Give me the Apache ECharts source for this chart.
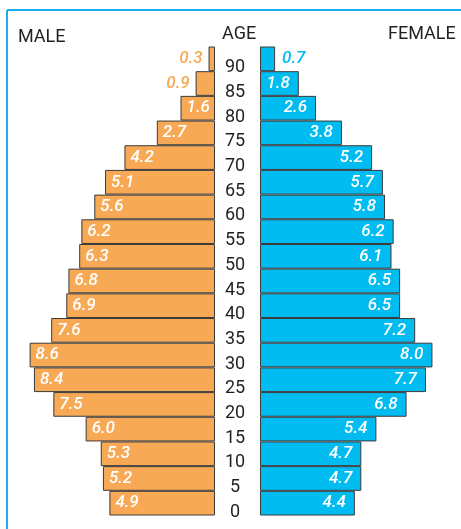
<!DOCTYPE html>
<html><head><meta charset="utf-8">
<script src="https://cdn.jsdelivr.net/npm/echarts@6/dist/echarts.min.js"></script>
<style>html,body{margin:0;padding:0;background:#fff}#c{width:461px;height:529px}</style>
</head><body><div id="c"></div>
<script>
const ages = ['0','5','10','15','20','25','30','35','40','45','50','55','60','65','70','75','80','85','90'];
const male = [4.9,5.2,5.3,6.0,7.5,8.4,8.6,7.6,6.9,6.8,6.3,6.2,5.6,5.1,4.2,2.7,1.6,0.9,0.3];
const female = [4.4,4.7,4.7,5.4,6.8,7.7,8.0,7.2,6.5,6.5,6.1,6.2,5.8,5.7,5.2,3.8,2.6,1.8,0.7];

const ORANGE = '#F7A956', BLUE = '#00BCF1', BORDER = '#3a3a3a';
const labelFont = {fontFamily:'Roboto', fontSize:17, fontStyle:'italic', fontWeight:500};
const fmt = p => p.value.toFixed(1);

const maleData = male.map(v => v < 1
  ? {value:v, label:{position:'left', distance:6, color:ORANGE}}
  : {value:v});
const femaleData = female.map(v => v < 1
  ? {value:v, label:{position:'right', distance:7, color:BLUE}}
  : {value:v});

const chart = echarts.init(document.getElementById('c'));
chart.setOption({
  animation:false,
  grid:[
    {left:21, width:194, top:46.5, height:469},
    {left:260, width:194, top:46.5, height:469}
  ],
  xAxis:[
    {gridIndex:0, type:'value', min:0, max:9, inverse:true, show:false},
    {gridIndex:1, type:'value', min:0, max:9, show:false}
  ],
  yAxis:[
    {gridIndex:0, type:'category', data:ages, position:'right',
     axisLine:{show:false}, axisTick:{show:false}, splitLine:{show:false},
     axisLabel:{align:'center', verticalAlign:'top', margin:20, color:'#231f20', fontSize:18,
       fontFamily:'Liberation Sans Narrow, Roboto'}},
    {gridIndex:1, type:'category', data:ages, show:false}
  ],
  series:[
    {type:'bar', xAxisIndex:0, yAxisIndex:0, data:maleData, barCategoryGap:0,
     itemStyle:{color:ORANGE, borderColor:BORDER, borderWidth:1},
     label:{show:true, position:'insideLeft', distance:6, color:'#fff', formatter:fmt, ...labelFont}},
    {type:'bar', xAxisIndex:1, yAxisIndex:1, data:femaleData, barCategoryGap:0,
     itemStyle:{color:BLUE, borderColor:BORDER, borderWidth:1},
     label:{show:true, position:'insideRight', distance:9, color:'#fff', formatter:fmt, ...labelFont}}
  ],
  graphic:[
    {type:'line', shape:{x1:7, y1:10, x2:461, y2:10}, style:{stroke:'#1AAEEF', lineWidth:2}},
    {type:'line', shape:{x1:7, y1:10, x2:7, y2:529}, style:{stroke:'#1AAEEF', lineWidth:2}},
    {type:'text', left:18, top:28, style:{text:'MALE', fontSize:18, fill:'#231f20', fontFamily:'Liberation Sans Narrow, Roboto'}},
    {type:'text', left:222, top:25, style:{text:'AGE', fontSize:18, fill:'#231f20', fontFamily:'Liberation Sans Narrow, Roboto'}},
    {type:'text', left:388, top:25, style:{text:'FEMALE', fontSize:18, fill:'#231f20', fontFamily:'Liberation Sans Narrow, Roboto'}}
  ]
});
</script></body></html>
